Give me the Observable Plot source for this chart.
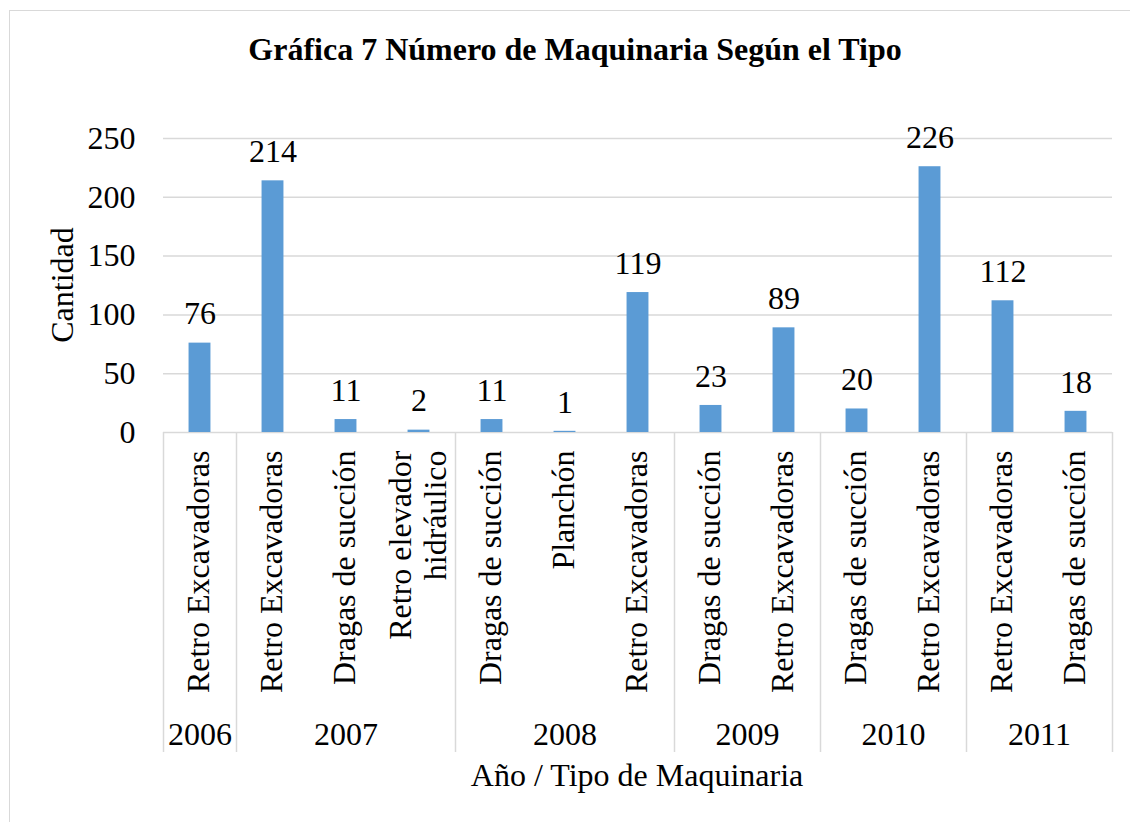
<!DOCTYPE html>
<html>
<head>
<meta charset="utf-8">
<script src="https://cdn.jsdelivr.net/npm/d3@7"></script>
<script src="https://cdn.jsdelivr.net/npm/@observablehq/plot@0.6"></script>
<style>
  html, body { margin: 0; padding: 0; background: #fff; }
  #wrap { position: relative; width: 1130px; height: 822px; overflow: hidden; font-family: "Liberation Serif", "Times New Roman", serif; color: #000; }
  #border { position: absolute; left: 9px; top: 10px; width: 1200px; height: 900px; border: 1.5px solid #d9d9d9; box-sizing: border-box; }
  .lbl { position: absolute; font-size: 32px; line-height: 32px; white-space: nowrap; }
  #title { left: 575px; top: 33px; transform: translateX(-50%); font-weight: bold; }
  #xtitle { left: 637px; top: 759px; transform: translateX(-50%); }
  #ytitle { left: 62px; top: 285px; transform: translate(-50%, -50%) rotate(-90deg); }
  #chart { position: absolute; left: 0; top: 0; }
</style>
</head>
<body>
<div id="wrap">
  <div id="border"></div>
  <div id="chart"></div>
  <div class="lbl" id="title">Gráfica 7 Número de Maquinaria Según el Tipo</div>
  <div class="lbl" id="ytitle">Cantidad</div>
  <div class="lbl" id="xtitle">Año / Tipo de Maquinaria</div>
</div>
<script>
const years = ["2006","2007","2007","2007","2008","2008","2008","2009","2009","2010","2010","2011","2011"];
const types = ["Retro Excavadoras","Retro Excavadoras","Dragas de succión","Retro elevador\nhidráulico","Dragas de succión","Planchón","Retro Excavadoras","Dragas de succión","Retro Excavadoras","Dragas de succión","Retro Excavadoras","Retro Excavadoras","Dragas de succión"];
const values = [76, 214, 11, 2, 11, 1, 119, 23, 89, 20, 226, 112, 18];
const yTicks = [0, 50, 100, 150, 200, 250];

const data = values.map((v, i) => ({i, year: years[i], type: types[i], value: v}));

// year groups (start index, end index)
const groups = [];
years.forEach((y, i) => {
  const g = groups[groups.length - 1];
  if (g && g.year === y) g.end = i + 1;
  else groups.push({year: y, start: i, end: i + 1});
});
const bounds = [0, ...groups.map(g => g.end)];

const plot = Plot.plot({
  width: 1130,
  height: 822,
  marginTop: 138,
  marginBottom: 390,
  marginLeft: 163,
  marginRight: 18,
  style: {fontFamily: "'Liberation Serif', 'Times New Roman', serif", fontSize: "32px", color: "#000", background: "transparent", overflow: "visible"},
  x: {domain: [0, years.length], axis: null},
  y: {domain: [0, 250], ticks: yTicks, tickSize: 0, tickPadding: 28, label: null},
  marks: [
    Plot.ruleY(yTicks, {stroke: "#d9d9d9", strokeWidth: 1.5, strokeOpacity: 1}),
    Plot.rectY(data, {x1: d => d.i + 0.35, x2: d => d.i + 0.65, y: "value", fill: "#5B9BD5"}),
    Plot.text(data, {x: d => d.i + 0.5, y: "value", text: d => String(d.value), dy: -29, lineAnchor: "middle", fontSize: 32, fill: "#000"}),
    Plot.text(data, {x: d => d.i + 0.5, y: () => 0, text: "type", rotate: -90, textAnchor: "end", lineAnchor: "middle", dy: 18, dx: -2, fontSize: 32, fill: "#000", lineHeight: 1.1}),
    Plot.text(groups, {x: d => (d.start + d.end) / 2, y: () => 0, text: "year", dy: 302, lineAnchor: "middle", fontSize: 32, fill: "#000"}),
    Plot.ruleX(bounds, {x: d => d, stroke: "#d9d9d9", strokeWidth: 1.5, strokeOpacity: 1})
  ]
});
document.getElementById("chart").appendChild(plot);

// extend the group separators (vertical rules) below the baseline, through the category axis area
const y0 = plot.scale("y").apply(0);
d3.select(plot).selectAll("line").each(function () {
  const l = d3.select(this);
  const a = l.attr("y1"), b = l.attr("y2");
  if (a != null && b != null && +a !== +b) {
    l.attr("y1", y0).attr("y2", y0 + 320);
  }
});
</script>
</body>
</html>
